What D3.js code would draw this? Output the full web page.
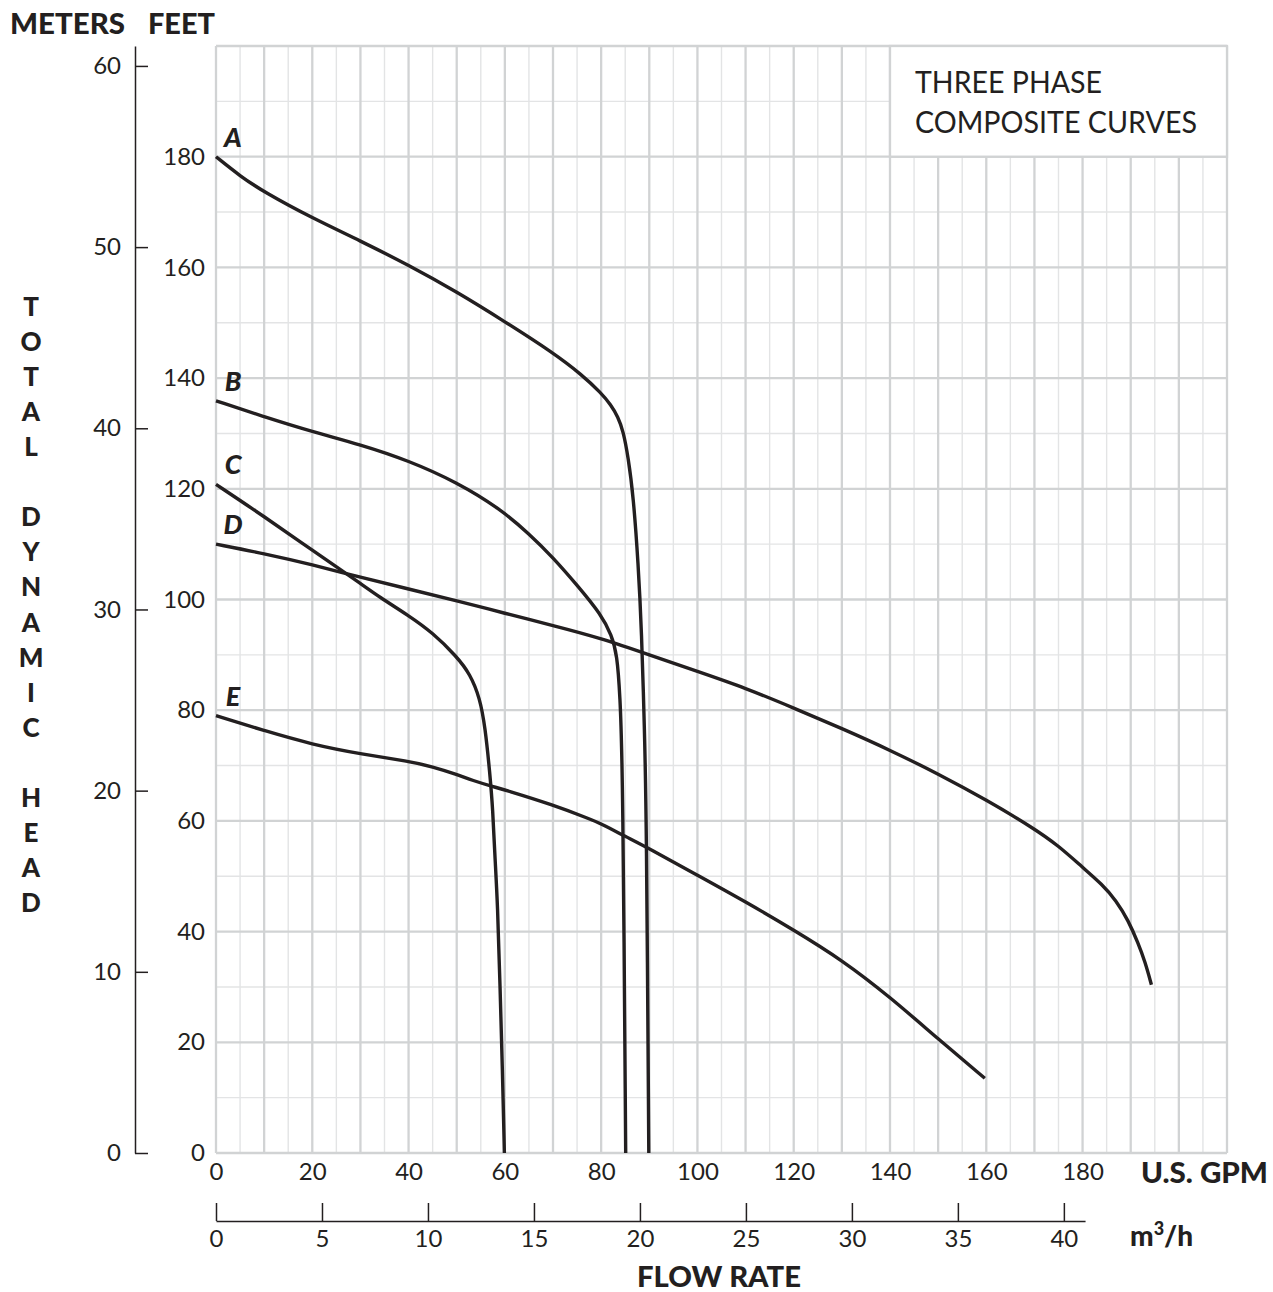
<!DOCTYPE html>
<html><head><meta charset="utf-8">
<script src="https://cdn.jsdelivr.net/npm/d3@7"></script>
<style>
body{margin:0;background:#fff}
svg{display:block}
text{font-family:Lato,"Open Sans",sans-serif;fill:#231f20}
</style>
</head><body>
<svg id="c" width="1273" height="1292"></svg>
<script>
// ---- tick labels ----
const gpmTicks = [0,20,40,60,80,100,120,140,160,180];
const feetTicks = [0,20,40,60,80,100,120,140,160,180];
const meterTicks = [0,10,20,30,40,50,60];
const m3hTicks = [0,5,10,15,20,25,30,35,40];
const seriesNames = ["A","B","C","D","E"];
const titleLines = ["THREE PHASE","COMPOSITE CURVES"];
const yTitle = "TOTAL DYNAMIC HEAD";

// ---- series (GPM, feet) ----
const gpmA  = [0,5,10,20,30,40,50,60,70,76,80,82,83.5,84.6,85.6,86.7,87.7,88.4,89.0,89.4,89.9];
const headA = [180,176.5,173.6,168.9,164.8,160.4,155.6,150.2,144.6,140.6,137.3,135.2,133.0,130.4,125.8,118.6,106.5,94.5,76.4,62,0];

const gpmB  = [0,10,20,30,40,50,59,65,70,75,80,82.2,83.3,83.9,84.5,85.1];
const headB = [135.9,133.0,130.3,128.0,125.1,121.2,116.4,111.9,107.6,102.6,97.3,93.5,90.0,83.0,70,0];

const gpmC  = [0,10,20,30,34,40,45,50,52.8,54.8,55.9,56.9,57.5,57.9,58.5,59.0,59.5,59.9];
const headC = [120.8,115.0,108.9,102.9,100.4,97.1,94.0,89.7,86.5,82.2,77.0,68.5,62,54,45,30,15,0];

const gpmD  = [0,10,20,30,40,50,60,70,80,90,100,110,120,130,140,150,160,170,175,180,184,187,189.5,191.5,193,194.3];
const headD = [110.0,108.3,106.3,104.0,101.9,99.8,97.5,95.3,93.0,90.0,87.0,84.0,80.4,76.7,72.8,68.5,63.8,58.6,55.5,51.6,48.6,45.6,42.0,38.0,34.5,30.4];

const gpmE  = [0,10,20,30,40,45,50,53.3,57.5,60,70,77.5,80,85,90,100,110,120,130,140,150,159.7];
const headE = [79.0,76.3,73.8,72.1,70.8,69.8,68.4,67.3,66.2,65.6,62.9,60.4,59.5,57.2,55.0,50.2,45.4,40.3,34.9,28.2,20.6,13.5];

const seriesGpm = [gpmA,gpmB,gpmC,gpmD,gpmE];
const seriesHead = [headA,headB,headC,headD,headE];

// ---- layout ----
const svg = d3.select("#c");
const L = 216, R = 1227, T = 46, B = 1153;
const x = d3.scaleLinear().domain([0,210]).range([L,R]);
const y = d3.scaleLinear().domain([0,200]).range([B,T]);
const yM = d3.scaleLinear().domain([0,61.1]).range([B,T]);
const M3H_PER_GPM = 1/4.40287;
const xm = d3.scaleLinear().domain([0,41]).range([L, x(41/M3H_PER_GPM)]);

const ink = "#231f20";
const gMajor = "#d1d3d4", gMinor = "#e3e4e5";

// grid
const grid = svg.append("g");
const vMinor = d3.range(5,210,10), vMajor = d3.range(0,211,10);
const hMinor = d3.range(10,200,20), hMajor = d3.range(0,201,20);
grid.selectAll(".vm").data(vMinor).join("line")
  .attr("x1",d=>x(d)).attr("x2",d=>x(d)).attr("y1",T).attr("y2",B)
  .attr("stroke",gMinor).attr("stroke-width",1.4);
grid.selectAll(".hm").data(hMinor).join("line")
  .attr("y1",d=>y(d)).attr("y2",d=>y(d)).attr("x1",L).attr("x2",R)
  .attr("stroke",gMinor).attr("stroke-width",1.4);
grid.selectAll(".vM").data(vMajor).join("line")
  .attr("x1",d=>x(d)).attr("x2",d=>x(d)).attr("y1",T).attr("y2",B)
  .attr("stroke",gMajor).attr("stroke-width",2.3);
grid.selectAll(".hM").data(hMajor).join("line")
  .attr("y1",d=>y(d)).attr("y2",d=>y(d)).attr("x1",L).attr("x2",R)
  .attr("stroke",gMajor).attr("stroke-width",2.3);

// title box
svg.append("rect").attr("x",x(140)).attr("y",y(200)).attr("width",x(210)-x(140)).attr("height",y(180)-y(200))
  .attr("fill","#fff").attr("stroke",gMajor).attr("stroke-width",2.3);
svg.append("g").selectAll("text").data(titleLines).join("text")
  .attr("x",x(140)+25).attr("y",(d,i)=>93+i*40)
  .attr("font-size",30).attr("font-weight",400)
  .attr("textLength",(d,i)=>i===0?187:282).attr("lengthAdjust","spacingAndGlyphs")
  .text(d=>d);

// curves
const line = d3.line().x(d=>x(d[0])).y(d=>y(d[1])).curve(d3.curveBasis);
seriesGpm.forEach((g,i)=>{
  const pts = g.map((v,j)=>[v,seriesHead[i][j]]);
  svg.append("path").attr("d",line(pts)).attr("fill","none")
    .attr("stroke",ink).attr("stroke-width",3.4).attr("stroke-linejoin","round");
  svg.append("text").attr("x",x(0)+17).attr("y",y(seriesHead[i][0])-10)
    .attr("text-anchor","middle").attr("font-size",27).attr("font-weight",900)
    .attr("font-style","italic").text(seriesNames[i]);
});

function styleAxis(g, size){
  g.selectAll("text").attr("font-size",size).attr("fill",ink).attr("font-family",null);
}
// feet axis
const ax1 = svg.append("g").attr("transform",`translate(${L},0)`)
  .call(d3.axisLeft(y).tickValues(feetTicks).tickSize(0).tickPadding(11));
ax1.select(".domain").remove();
styleAxis(ax1, 24);

// meters axis
const ax2 = svg.append("g").attr("transform","translate(135,0)")
  .call(d3.axisLeft(yM).tickValues(meterTicks).tickSizeInner(-13).tickSizeOuter(0).tickPadding(14));
ax2.selectAll("line,path").attr("stroke",ink).attr("stroke-width",1.5);
styleAxis(ax2, 24);

// GPM axis
const ax3 = svg.append("g").attr("transform",`translate(0,${B})`)
  .call(d3.axisBottom(x).tickValues(gpmTicks).tickSize(0).tickPadding(10));
ax3.select(".domain").remove();
styleAxis(ax3, 24);

// m3/h axis
const ax4 = svg.append("g").attr("transform","translate(0,1221)")
  .call(d3.axisBottom(xm).tickValues(m3hTicks).tickSizeInner(-18).tickSizeOuter(0).tickPadding(9));
ax4.selectAll("line,path").attr("stroke",ink).attr("stroke-width",1.5);
styleAxis(ax4, 24);

// axis titles
const bold = (t,xx,yy,anchor,size,len)=>{
  const s = svg.append("text").attr("x",xx).attr("y",yy)
    .attr("text-anchor",anchor).attr("font-size",size).attr("font-weight",900).text(t);
  if(len) s.attr("textLength",len).attr("lengthAdjust","spacingAndGlyphs");
  return s;
};
bold("METERS",10,34,"start",28,115);
bold("FEET",148,34,"start",28,67);
bold("U.S. GPM",1141,1183,"start",28,127);
const m3 = bold("m",1130,1246,"start",28);
m3.append("tspan").attr("font-size",18).attr("dy",-11).text("3");
m3.append("tspan").attr("dy",11).text("/h");
bold("FLOW RATE",637,1287,"start",28,164);

// vertical title
svg.append("g").selectAll("text").data(yTitle.split("")).join("text")
  .attr("x",31).attr("y",(d,i)=>316+i*35.06)
  .attr("text-anchor","middle").attr("font-size",26).attr("font-weight",900)
  .text(d=>d);
</script>
</body></html>
